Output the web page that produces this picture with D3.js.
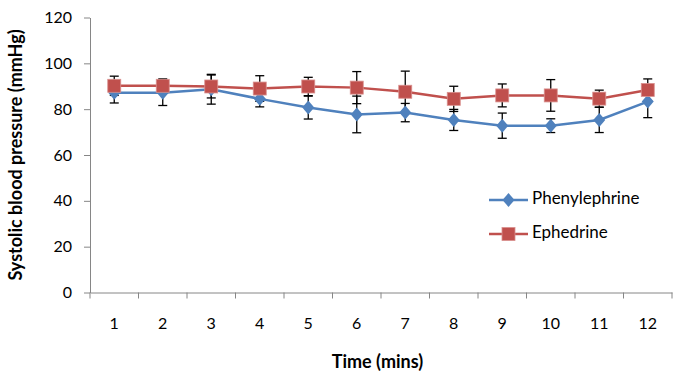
<!DOCTYPE html>
<html>
<head>
<meta charset="utf-8">
<script src="https://cdnjs.cloudflare.com/ajax/libs/d3/7.8.5/d3.min.js"></script>
<style>
  body { margin: 0; background: #fff; }
  svg { display: block; font-family: Lato, "Open Sans", sans-serif; }
  .axis path, .axis line { stroke: #868686; }
  .axis text { font-size: 16px; fill: #000; font-family: Lato, sans-serif; }
</style>
</head>
<body>
<div id="chart"></div>
<script>
const minutes = ["1", "2", "3", "4", "5", "6", "7", "8", "9", "10", "11", "12"];
const phenylephrine = [87.2, 87.2, 88.7, 84.5, 80.7, 77.7, 78.5, 75.3, 72.8, 72.8, 75.3, 83.3];
const phenylephrineErr = [4.5, 5.6, 6.5, 3.5, 5.0, 8.0, 4.0, 4.6, 5.5, 3.0, 5.5, 7.0];
const ephedrine = [90.2, 90.2, 89.9, 89.0, 89.9, 89.4, 87.6, 84.5, 86.0, 86.0, 84.6, 88.4];
const ephedrineErr = [4.2, 3.0, 5.0, 5.6, 4.0, 7.0, 9.0, 5.5, 5.0, 6.9, 3.7, 4.8];
const yTicks = [0, 20, 40, 60, 80, 100, 120];

const W = 674, H = 377;
const margin = { top: 17.5, right: 2, bottom: 84.5, left: 90 };

const svg = d3.select("#chart").append("svg")
  .attr("width", W)
  .attr("height", H);

const x = d3.scaleBand()
  .domain(minutes)
  .range([margin.left, W - margin.right])
  .padding(0);

const y = d3.scaleLinear()
  .domain([0, 120])
  .range([H - margin.bottom, margin.top]);

const cx = d => x(d) + x.bandwidth() / 2;

// y axis
svg.append("g")
  .attr("class", "axis")
  .attr("transform", `translate(${margin.left},0)`)
  .call(d3.axisLeft(y).tickValues(yTicks).tickSize(6).tickSizeOuter(0).tickPadding(12));

// x axis: labels centred, ticks on category boundaries
const xAxis = svg.append("g")
  .attr("class", "axis")
  .attr("transform", `translate(0,${y(0)})`)
  .call(d3.axisBottom(x).tickSize(0).tickSizeOuter(0).tickPadding(25));

const bounds = minutes.map(d => x(d)).concat([x(minutes[minutes.length - 1]) + x.bandwidth()]);
xAxis.selectAll("line.bound")
  .data(bounds)
  .join("line")
  .attr("class", "bound")
  .attr("x1", d => d).attr("x2", d => d)
  .attr("y1", 0).attr("y2", 6);

// axis titles
svg.append("text")
  .attr("transform", `translate(17,${(y(0) + y(120)) / 2}) rotate(-90)`)
  .attr("text-anchor", "middle")
  .attr("dominant-baseline", "middle")
  .style("font-size", "18px")
  .style("font-weight", "700")
  .text("Systolic blood pressure (mmHg)");

svg.append("text")
  .attr("x", 377.5)
  .attr("y", 368)
  .attr("text-anchor", "middle")
  .style("font-size", "18px")
  .style("font-weight", "700")
  .text("Time (mins)");

const series = [
  { name: "Phenylephrine", values: phenylephrine, err: phenylephrineErr, color: "#4F81BD", shape: "diamond" },
  { name: "Ephedrine", values: ephedrine, err: ephedrineErr, color: "#C0504D", shape: "square" }
];

// error bars (under markers)
series.forEach(s => {
  const g = svg.append("g");
  minutes.forEach((m, i) => {
    const lo = y(s.values[i] - s.err[i]), hi = y(s.values[i] + s.err[i]);
    g.append("line").attr("x1", cx(m)).attr("x2", cx(m)).attr("y1", lo).attr("y2", hi)
      .attr("stroke", "#000").attr("stroke-width", 1.3);
    [lo, hi].forEach(v => g.append("line")
      .attr("x1", cx(m) - 4.5).attr("x2", cx(m) + 4.5).attr("y1", v).attr("y2", v)
      .attr("stroke", "#000").attr("stroke-width", 1.3));
  });
});

const line = d3.line().x((d, i) => cx(minutes[i])).y(d => y(d));

function marker(g, shape, color, px, py) {
  if (shape === "diamond") {
    g.append("path")
      .attr("d", `M${px},${py - 7}L${px + 6},${py}L${px},${py + 7}L${px - 6},${py}Z`)
      .attr("fill", color);
  } else {
    g.append("rect")
      .attr("x", px - 6.5).attr("y", py - 6.5)
      .attr("width", 13).attr("height", 13)
      .attr("fill", color)
      .attr("stroke", "#D9908E").attr("stroke-width", 0.8);
  }
}

series.forEach(s => {
  svg.append("path")
    .datum(s.values)
    .attr("d", line)
    .attr("fill", "none")
    .attr("stroke", s.color)
    .attr("stroke-width", 2.5);
  const g = svg.append("g");
  s.values.forEach((v, i) => marker(g, s.shape, s.color, cx(minutes[i]), y(v)));
});

// legend
const legend = svg.append("g");
series.forEach((s, i) => {
  const ly = 200 + i * 34;
  legend.append("line")
    .attr("x1", 489).attr("x2", 528).attr("y1", ly).attr("y2", ly)
    .attr("stroke", s.color).attr("stroke-width", 2.5);
  marker(legend, s.shape, s.color, 508.5, ly);
  legend.append("text")
    .attr("x", 532).attr("y", ly)
    .attr("dominant-baseline", "middle")
    .style("font-size", "17px")
    .text(s.name);
});
</script>
</body>
</html>
